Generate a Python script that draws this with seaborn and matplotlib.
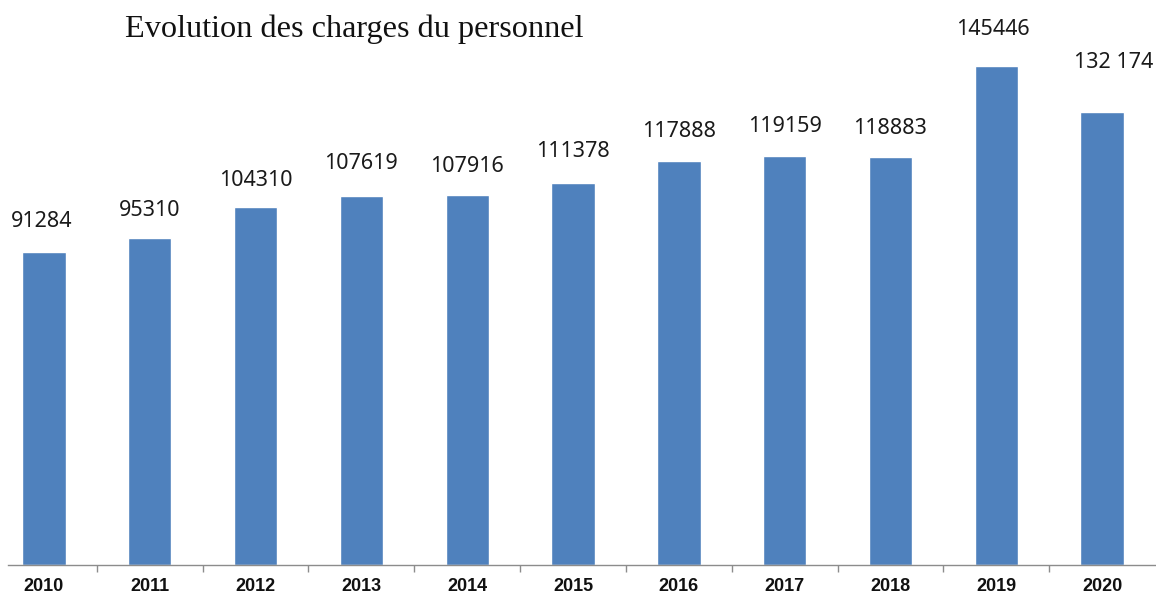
import matplotlib
matplotlib.use("Agg")
import matplotlib.pyplot as plt
import seaborn as sns
import pandas as pd
import numpy as np

# Personnel costs per year
years = ["2010", "2011", "2012", "2013", "2014", "2015",
         "2016", "2017", "2018", "2019", "2020"]
charges = [91284, 95310, 104310, 107619, 107916, 111378,
           117888, 119159, 118883, 145446, 132174]
value_labels = ["91284", "95310", "104310", "107619", "107916", "111378",
                "117888", "119159", "118883", "145446", "132 174"]

# Label placement above each bar (pixels)
label_dy = [30, 28, 27, 32, 28, 31, 29, 30, 29, 37, 49]
label_dx = [-2, 0, 0, 0, 0, 0, 0, 0, 0, -3, 12]

df = pd.DataFrame({"annee": years, "charges": charges})

sns.set_theme(style="white")
plt.rcParams["font.family"] = ["Noto Sans", "DejaVu Sans"]

W, H = 1156, 596
fig = plt.figure(figsize=(W / 100, H / 100), dpi=100)
ax = fig.add_axes([8 / W, 31 / H, (W - 8) / W, 565 / H])

bar_color = "#4F81BD"
sns.barplot(data=df, x="annee", y="charges", color=bar_color,
            width=0.41, saturation=1, ax=ax)

ax.set_xlim(-0.34, 10.51)
ax.set_ylim(0, 164700)

px = 72 / 100
for i, (v, lab) in enumerate(zip(charges, value_labels)):
    ax.annotate(lab, xy=(i, v), xytext=(label_dx[i] * px, label_dy[i] * px),
                textcoords="offset points", ha="center", va="center",
                fontsize=15.5, color="#1a1a1a", family=["Noto Sans", "DejaVu Sans"])

# Axes styling: only a grey baseline with ticks between categories
for side in ["left", "right", "top"]:
    ax.spines[side].set_visible(False)
ax.spines["bottom"].set_color("#8c8c8c")
ax.spines["bottom"].set_linewidth(1.0)
ax.set_yticks([])
ax.set_xlabel("")
ax.set_ylabel("")
ax.set_xticks(np.arange(len(years)))
ax.set_xticklabels(years, fontsize=13, fontweight="bold",
                   family=["Liberation Sans", "DejaVu Sans"], color="#111111")
ax.tick_params(axis="x", which="major", length=0, pad=9.5)
ax.set_xticks(np.arange(len(years) - 1) + 0.5, minor=True)
ax.tick_params(axis="x", which="minor", length=5, width=1.0,
               color="#8c8c8c", direction="out", bottom=True)

fig.text(125 / W, 1 - 37 / H, "Evolution des charges du personnel",
         ha="left", va="baseline", fontsize=23.2,
         family=["Liberation Serif", "DejaVu Serif"], color="#111111")

fig.savefig("out.png", dpi=100, facecolor="white")
